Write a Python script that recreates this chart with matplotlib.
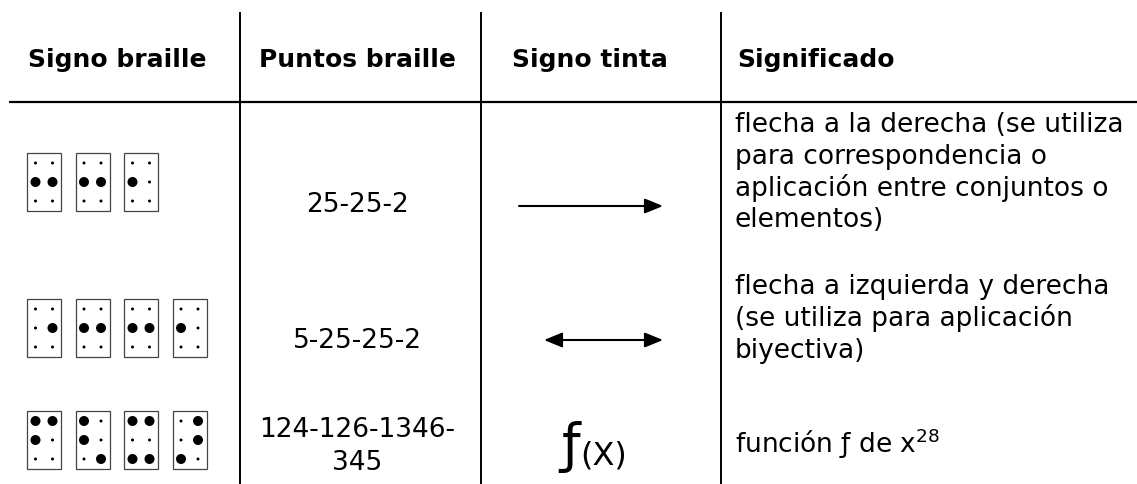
import matplotlib
matplotlib.use("Agg")
import matplotlib.pyplot as plt
from matplotlib.patches import Rectangle, Circle, FancyArrowPatch

# ---------------- data ----------------
headers = ["Signo braille", "Puntos braille", "Signo tinta", "Significado"]
braille_points = ["25-25-2", "5-25-25-2", "124-126-1346-345"]
points_labels = ["25-25-2", "5-25-25-2", "124-126-1346-\n345"]
ink_signs = ["->", "<->", "f(X)"]
meanings = [
    "flecha a la derecha (se utiliza\npara correspondencia o\naplicación entre conjuntos o\nelementos)",
    "flecha a izquierda y derecha\n(se utiliza para aplicación\nbiyectiva)",
    "función ƒ de x$^{28}$",
]

# ---------------- layout ----------------
W, H = 1137, 485
fig = plt.figure(figsize=(W / 100, H / 100), dpi=100)
ax = fig.add_axes([0, 0, 1, 1])
ax.set_xlim(0, W)
ax.set_ylim(H, 0)
ax.axis("off")

FONT = "DejaVu Sans"
col_lines = [240, 481, 721]
header_y = 103
col_center = [117, 357, 590]
meaning_x = 735
header_base = 67

# grid lines
ax.plot([9, W], [header_y, header_y], color="black", lw=1.6, solid_capstyle="butt")
for x in col_lines:
    ax.plot([x, x], [13, H], color="black", lw=1.4, solid_capstyle="butt")

# headers
for i, h in enumerate(headers):
    if i < 3:
        ax.text(col_center[i], header_base, h, ha="center", va="baseline",
                fontsize=18, fontweight="bold", family=FONT)
    else:
        ax.text(meaning_x + 2, header_base, h, ha="left", va="baseline",
                fontsize=18, fontweight="bold", family=FONT)

# braille cells
cell_tops = [154, 300, 412]
cell_x0 = 27
cell_pitch = 48.5
cell_w, cell_h = 34, 58
for r, pts in enumerate(braille_points):
    for c, cell in enumerate(pts.split("-")):
        x0 = cell_x0 + c * cell_pitch
        y0 = cell_tops[r]
        ax.add_patch(Rectangle((x0, y0), cell_w, cell_h, fill=False,
                               edgecolor="#444444", lw=0.9))
        for d in range(1, 7):
            col = 0 if d <= 3 else 1
            row = (d - 1) % 3
            cx = x0 + 8.5 + 17 * col
            cy = y0 + 10 + 19 * row
            rad = 5 if str(d) in cell else 1.5
            ax.add_patch(Circle((cx, cy), rad, color="black", lw=0))

# braille points text
pts_base = [212, 348, 437]
for r, lab in enumerate(points_labels):
    lines = lab.split("\n")
    for k, ln in enumerate(lines):
        ax.text(col_center[1], pts_base[r] + k * 33, ln, ha="center",
                va="baseline", fontsize=19, family=FONT)

# ink signs
arrow_y = [207, 341]
arrow_x = [(519, 663), (544, 663)]
for r, s in enumerate(ink_signs):
    if s in ("->", "<->"):
        style = "-|>,head_length=1.1,head_width=0.45" if s == "->" else \
            "<|-|>,head_length=1.1,head_width=0.45"
        x1, x2 = arrow_x[r]
        ax.add_patch(FancyArrowPatch((x1, arrow_y[r]), (x2, arrow_y[r]),
                                     arrowstyle=style, mutation_scale=10,
                                     color="black", lw=1.5, shrinkA=0, shrinkB=0))
    else:
        ax.text(580, 462, "ƒ", ha="right", va="baseline", fontsize=38, family=FONT)
        ax.text(580, 465, "(X)", ha="left", va="baseline", fontsize=23, family=FONT)

# meanings
mean_base = [132, 294, 453]
pitch = 31.8
for r, m in enumerate(meanings):
    for k, ln in enumerate(m.split("\n")):
        ax.text(meaning_x, mean_base[r] + k * pitch, ln, ha="left",
                va="baseline", fontsize=19, family=FONT)

fig.savefig("out.png", dpi=100)
